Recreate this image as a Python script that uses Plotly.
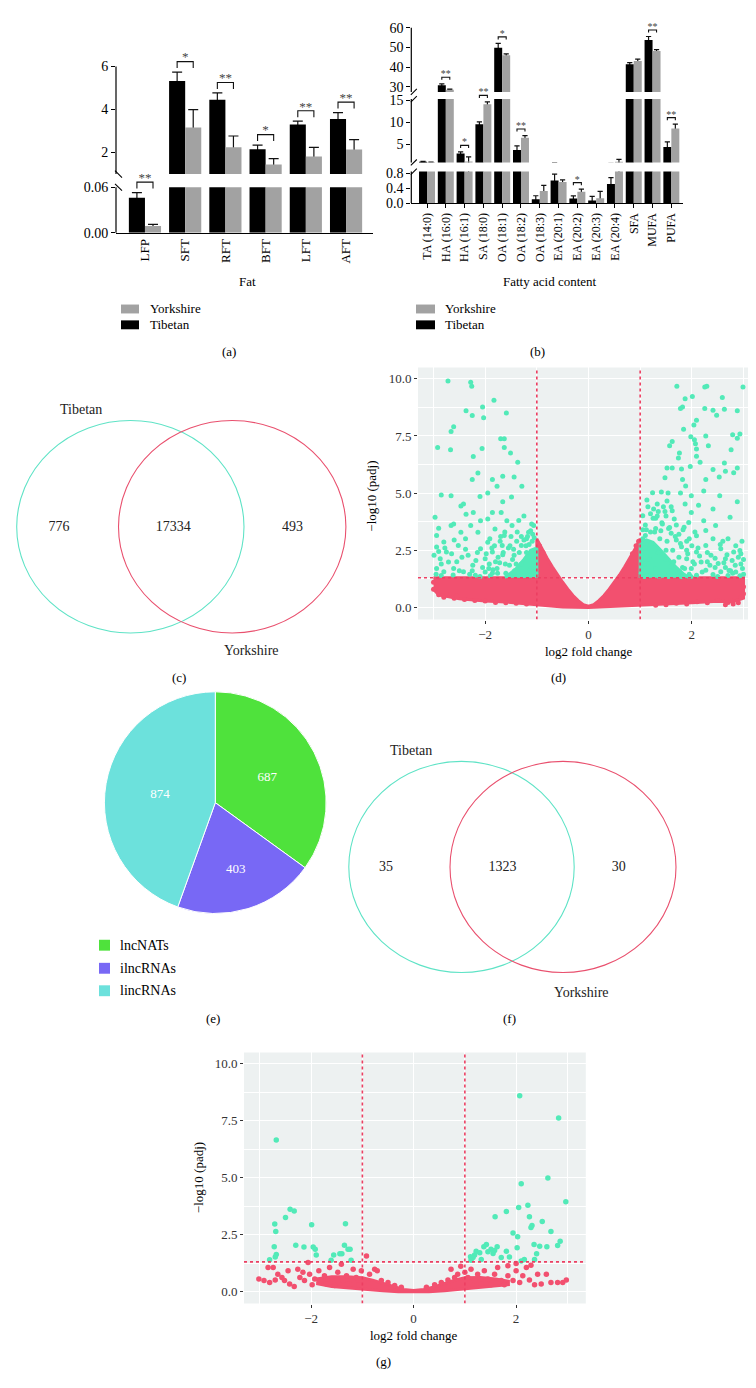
import numpy as np
import plotly.graph_objects as go

W, H = 756, 1388
FONT = "Liberation Serif"
TIB_COL = "#000000"
YOR_COL = "#a2a2a2"
RED = "#f2506f"
GREEN = "#52eab8"
CUT = "#ec3f62"
PANEL_BG = "#edf1f1"
PIE_COLS = ["#4fe23c", "#7868f5", "#6ce1dc"]

# ---------------- data ----------------
# (a) fat depots, mean and sd
fat_labels = ["LFP", "SFT", "RFT", "BFT", "LFT", "AFT"]
fat_tibetan = [0.046, 5.32, 4.45, 2.15, 3.30, 3.56]
fat_tibetan_sd = [0.007, 0.42, 0.32, 0.20, 0.16, 0.30]
fat_yorkshire = [0.009, 3.17, 2.25, 1.45, 1.82, 2.14]
fat_yorkshire_sd = [0.002, 0.83, 0.52, 0.27, 0.42, 0.46]
fat_sig = ["**", "*", "**", "*", "**", "**"]

# (b) fatty acid content
fa_labels = ["TA (14:0)", "HA (16:0)", "HA (16:1)", "SA (18:0)", "OA (18:1)", "OA (18:2)",
             "OA (18:3)", "EA (20:1)", "EA (20:2)", "EA (20:3)", "EA (20:4)", "SFA", "MUFA", "PUFA"]
fa_tibetan = [1.05, 30.9, 2.90, 9.60, 49.9, 3.70, 0.105, 0.60, 0.12, 0.07, 0.51, 41.5, 53.8, 4.40]
fa_tibetan_sd = [0.06, 0.70, 0.38, 0.50, 2.20, 0.95, 0.09, 0.17, 0.07, 0.11, 0.17, 0.90, 1.80, 1.15]
fa_yorkshire = [0.92, 28.6, 1.10, 14.1, 46.1, 6.50, 0.32, 0.56, 0.30, 0.13, 1.05, 43.2, 48.2, 8.60]
fa_yorkshire_sd = [0.04, 0.30, 1.05, 0.55, 0.70, 0.50, 0.15, 0.06, 0.07, 0.18, 0.55, 0.90, 0.70, 1.00]
fa_sig = ["", "**", "*", "**", "*", "**", "", "", "*", "", "", "", "**", "**"]

breeds = ["Tibetan", "Yorkshire"]

# (c) / (f) overlaps: Tibetan only, shared, Yorkshire only
gene_overlap = [776, 17334, 493]
lnc_overlap = [35, 1323, 30]

# (e) lncRNA classes
lnc_types = ["lncNATs", "ilncRNAs", "lincRNAs"]
lnc_counts = [687, 403, 874]

# thresholds used in the volcano plots
fc_cut = 1.0
padj_cut = 0.05

# (d) volcano, genes: outlines of the densest clouds plus scattered points
d_body_x = [-3.0, -1.0, -1.0, -0.9, -0.8, -0.7, -0.6, -0.5, -0.4, -0.3, -0.2, -0.1, 0.0,
            0.1, 0.2, 0.3, 0.4, 0.5, 0.6, 0.7, 0.8, 0.9, 1.0, 1.0, 3.0,
            3.0, 2.8, 2.5, 2.0, 1.5, 1.0, 0.5, 0.0, -0.5, -1.0, -1.5, -2.0, -2.5, -2.9, -3.0]
d_body_y = [1.3, 1.3, 3.0, 2.55, 2.15, 1.78, 1.42, 1.1, 0.8, 0.52, 0.3, 0.12, 0.05,
            0.12, 0.3, 0.52, 0.8, 1.1, 1.42, 1.78, 2.15, 2.55, 3.0, 1.3, 1.3,
            0.4, 0.25, 0.27, 0.2, 0.15, 0.08, 0.02, 0.0, 0.02, 0.12, 0.22, 0.28, 0.38, 0.55, 0.8]
d_ns_x = [-2.9, -2.8, -2.6, -2.4, -2.2, -2.0, -1.8, -1.6, -1.4, -1.2, 2.9, 2.8, 2.7, 2.5, 2.3,
          2.1, 1.9, 1.7, 1.5, 1.3, 3.0, 3.0, -3.0, -3.0, -0.95, -0.88, 0.92, 0.97, 0.85,
          2.65, 2.75, 2.95, -2.75, -2.55]
d_ns_y = [0.55, 0.45, 0.4, 0.35, 0.3, 0.28, 0.22, 0.2, 0.18, 0.15, 0.2, 0.15, 0.22, 0.3, 0.2,
          0.25, 0.15, 0.18, 0.12, 0.1, 0.6, 0.9, 0.8, 1.1, 2.7, 2.4, 2.7, 2.9, 2.35,
          0.12, 0.3, 0.45, 0.6, 0.5]
d_up_core_x = [1.0, 1.0, 1.12, 1.25, 1.4, 1.55, 1.7, 1.85, 1.95]
d_up_core_y = [1.3, 2.8, 2.95, 2.85, 2.5, 2.1, 1.75, 1.45, 1.3]
d_down_core_x = [-1.0, -1.0, -1.12, -1.25, -1.4, -1.55, -1.62]
d_down_core_y = [1.3, 2.6, 2.5, 2.1, 1.7, 1.4, 1.3]
d_sig_x = [-2.72, -2.28, -2.26, -1.83, -2.05, -2.37, -2.25, -2.03, -1.59, -2.61, -2.66, -2.92, -2.67,
           -1.7, -1.63, -1.63, -2.06, -2.23, -1.51, -1.37, -2.14, -2.25, -1.66, -1.44, -1.86, -1.77,
           -1.29, -1.95, -2.85, -2.66, -2.10, -1.49, -1.66, -2.42, -2.23, -2.37, -2.97, -1.95, -1.86,
           -1.25, -1.35, -2.28, -2.66, -2.9, -1.1, -2.94, -2.80, -2.94, -2.75, -2.99, -2.87, -2.71,
           -2.94, -2.80, -2.61, -2.47, -2.38, -2.52, -2.33, -2.24, -2.42, -2.09, -2.0, -1.91, -1.86,
           -1.77, -1.67, -2.14, -1.81, -1.63, -1.58, -1.48, -2.19, -1.86, -1.44, -1.30, -1.16, -1.06,
           -1.20, -1.53, -1.37, -1.11, -2.09, -2.61, -1.69, -2.47, -2.55, -2.3, -2.05, -1.95, -1.75,
           -1.6, -2.65, -2.85, -2.15, -1.7, -1.55, -1.4, -1.2, -1.1,
           -2.95, -2.85, -2.78, -2.62, -2.5, -2.45, -2.38, -2.25, -2.18, -2.1, -2.0, -1.98, -1.92,
           -1.85, -1.82, -1.72, -1.65, -1.62, -1.5, -1.45, -1.38, -1.3, -1.25, -1.15, -1.08, -1.05,
           -1.52, -1.9, -2.6, -2.9,
           -1.02, -1.06, -1.03, -1.09, -1.14, -1.17, -1.21, -1.26, -1.3, -1.34, -1.39, -1.43,
           -1.47, -1.52, -1.57, -1.61, -1.66, -1.71, -1.76, -1.8, -1.87, -1.93, -1.12, -1.18,
           1.71, 2.01, 1.87, 2.25, 2.29, 2.59, 2.99, 1.82, 1.78, 2.25, 2.41, 2.63, 2.88, 2.48, 2.09,
           2.04, 1.84, 1.98, 2.05, 2.27, 2.79, 2.88, 2.93, 1.57, 1.62, 2.07, 2.32, 2.09, 2.76, 1.76,
           2.09, 1.74, 2.16, 2.63, 1.52, 1.62, 1.80, 2.88, 1.97, 2.41, 2.65, 2.81, 1.82, 1.48, 2.27,
           2.53, 1.88, 2.23, 1.24, 1.41, 1.54, 1.78, 1.99, 2.54, 2.88, 1.13, 1.33, 1.52, 1.87, 2.13,
           2.41, 1.26, 1.62, 1.99, 1.05, 2.74, 1.66, 2.23, 1.94, 2.46, 1.43, 1.85, 2.27, 2.70, 2.09,
           2.41, 2.93, 2.27, 2.56, 2.81, 2.95, 2.09, 2.37, 2.65, 1.90, 2.18, 2.51, 2.84, 2.98, 1.99,
           2.27, 2.56, 2.79, 2.09, 2.41, 1.76, 2.93, 1.1, 1.2, 1.35, 1.5, 1.7, 1.75, 1.9, 2.0, 2.15,
           2.3, 2.45, 2.65, 2.7, 1.6, 1.45, 1.15, 2.6, 2.85, 3.0, 2.75, 1.3, 1.05,
           1.95, 2.05, 2.12, 2.2, 2.3, 2.35, 2.45, 2.5, 2.55, 2.62, 2.68, 2.72, 2.78, 2.85, 2.9,
           2.95, 3.0, 2.97, 1.8, 1.7, 1.6, 1.55, 1.4, 1.3, 1.2, 1.1, 1.65, 1.82, 1.92, 1.5,
           1.02, 1.08, 1.03, 1.1, 1.05, 1.15, 1.18, 1.22, 1.28, 1.3, 1.35, 1.38, 1.42, 1.46,
           1.5, 1.52, 1.57, 1.6, 1.63, 1.68, 1.72, 1.75, 1.78, 1.83, 1.86, 1.9, 1.95, 1.98,
           2.02, 2.06, 1.12, 1.25, 1.33, 1.48, 1.37, 1.55, 1.8, 1.08]
d_sig_y = [9.9, 9.85, 9.67, 9.06, 8.77, 8.6, 8.4, 8.3, 8.5, 7.9, 7.7, 7.0, 6.9,
           7.38, 7.38, 7.0, 6.95, 6.6, 6.75, 6.35, 5.88, 5.6, 5.74, 5.71, 5.6, 5.3,
           5.3, 5.0, 4.92, 4.88, 4.85, 4.83, 4.62, 4.52, 4.15, 4.08, 3.94, 3.87, 4.15,
           4.0, 3.8, 3.58, 3.58, 3.46, 3.65, 3.15, 2.86, 2.64, 2.42, 2.28, 2.13, 1.99,
           1.70, 1.56, 1.70, 3.29, 3.0, 2.71, 2.28, 1.85, 1.56, 2.57, 2.13, 3.0, 2.42,
           1.70, 2.71, 3.29, 3.43, 3.15, 3.79, 3.58, 1.41, 1.49, 2.28, 2.71, 3.29, 3.58,
           3.0, 1.85, 1.56, 1.70, 3.79, 3.65, 4.15, 4.44, 2.0, 1.45, 1.75, 2.85, 2.2,
           1.5, 2.35, 1.4, 2.4, 3.1, 2.6, 1.9, 2.4, 1.45,
           1.45, 1.9, 2.6, 1.42, 1.6, 2.2, 2.55, 1.6, 2.05, 1.35, 1.55, 2.35, 1.9,
           1.65, 2.7, 1.95, 2.4, 3.3, 3.1, 2.55, 3.3, 3.1, 2.95, 2.75, 3.2, 3.05,
           1.4, 1.38, 2.95, 2.45,
           1.5, 2.0, 2.4, 2.9, 1.6, 2.2, 2.7, 1.4, 1.9, 2.4, 2.9, 1.6,
           2.1, 2.7, 1.4, 1.9, 2.3, 2.9, 1.5, 2.0, 2.6, 1.7, 3.35, 3.1,
           9.68, 9.23, 9.13, 9.64, 9.68, 9.18, 9.64, 8.77, 8.70, 8.70, 8.63, 8.67, 8.60, 8.41, 8.19,
           7.98, 7.79, 7.47, 7.33, 7.50, 7.55, 7.40, 7.59, 7.07, 7.26, 7.16, 7.07, 6.93, 6.90, 6.75,
           6.61, 6.54, 6.35, 6.32, 6.10, 6.10, 6.06, 6.10, 6.17, 6.03, 5.96, 5.89, 5.60, 5.67, 5.60,
           5.71, 5.31, 5.09, 5.02, 5.05, 5.0, 5.0, 4.88, 4.88, 4.62, 4.70, 4.52, 4.66, 4.52, 4.47,
           4.30, 4.30, 4.23, 4.15, 4.01, 3.94, 3.87, 3.79, 3.72, 3.58, 3.65, 3.51, 3.36, 3.0, 3.14,
           3.0, 2.49, 2.71, 2.57, 2.42, 2.35, 2.42, 2.28, 2.13, 2.13, 1.99, 1.92, 1.85, 1.70, 1.70,
           1.63, 1.56, 1.49, 1.41, 1.44, 1.56, 1.38, 3.6, 4.1, 4.2, 4.0, 3.6, 3.2, 2.9, 2.7, 2.25,
           2.0, 1.75, 1.75, 1.4, 4.4, 4.4, 4.4, 2.9, 2.7, 2.1, 1.6, 3.9, 3.4,
           1.45, 1.9, 2.6, 1.55, 2.4, 1.85, 2.15, 1.35, 2.75, 1.95, 2.3, 1.62, 2.05, 1.55, 2.2,
           1.9, 1.45, 2.9, 2.65, 2.95, 3.25, 3.45, 3.35, 3.45, 3.3, 3.15, 2.0, 1.75, 2.35, 2.5,
           1.5, 1.9, 2.3, 2.6, 3.0, 1.4, 2.1, 2.8, 3.3, 1.7, 2.4, 3.0, 3.7, 1.5,
           2.1, 2.9, 3.5, 1.8, 2.5, 3.1, 1.45, 2.2, 2.8, 3.4, 1.7, 2.5, 3.0, 1.35,
           2.0, 3.3, 3.4, 3.9, 4.0, 4.2, 1.35, 1.35, 1.35, 1.35]

# (g) volcano, lncRNAs
g_body_x = [-1.9, -1.6, -1.3, -1.0, -0.8, -0.6, -0.4, -0.2, 0.0, 0.2, 0.4, 0.6, 0.8, 1.0, 1.3,
            1.6, 1.85, 1.85, 1.5, 1.2, 1.0, 0.6, 0.3, 0.0, -0.3, -0.6, -1.0, -1.3, -1.6, -1.9]
g_body_y = [0.55, 0.65, 0.65, 0.6, 0.5, 0.36, 0.2, 0.09, 0.04, 0.09, 0.2, 0.36, 0.5, 0.6, 0.62,
            0.55, 0.45, 0.3, 0.22, 0.15, 0.1, 0.03, -0.01, -0.02, -0.01, 0.03, 0.1, 0.17, 0.22, 0.35]
g_ns_x = [-3.02, -2.92, -2.81, -2.84, -2.74, -2.65, -2.70, -2.57, -2.52, -2.45, -2.42, -2.33,
          -2.26, -2.22, -2.16, -2.13, -2.06, -2.03, -1.98, -1.93, -1.85, -1.80, -1.74, -1.70,
          -1.64, -1.59, -1.54, -1.48, -1.41, -1.38, -1.31, -1.25, -1.18, -1.12, -1.07, -1.02,
          -0.92, -0.86, -0.76, -0.71, -0.63, -0.50, -0.37, -0.24, 0.25, 0.41, 0.54, 0.67, 0.73,
          0.80, 0.86, 0.92, 1.00, 1.06, 1.12, 1.19, 1.25, 1.32, 1.38, 1.45, 1.51, 1.58, 1.64,
          1.71, 1.77, 1.84, 1.94, 2.00, 2.07, 2.13, 2.20, 2.26, 2.36, 2.42, 2.49, 2.59, 2.68,
          2.81, 2.91, 2.98, 2.00, 2.29, 1.84]
g_ns_y = [0.55, 0.48, 0.40, 1.05, 1.05, 0.76, 0.50, 0.62, 0.48, 0.91, 0.33, 0.22,
          0.98, 0.62, 0.84, 0.48, 1.27, 0.76, 0.30, 0.55, 0.91, 0.48, 0.69, 0.33,
          1.05, 0.55, 0.26, 0.84, 1.20, 0.48, 0.69, 0.33, 0.98, 0.62, 0.30, 0.91,
          1.56, 0.76, 0.98, 0.91, 0.48, 0.40, 0.26, 0.19, 0.19, 0.30, 0.40, 0.50, 0.98,
          0.62, 0.76, 1.11, 0.84, 0.62, 0.98, 0.48, 0.76, 0.33, 0.91, 0.55, 0.30, 0.76, 1.05,
          0.48, 0.30, 0.69, 0.48, 0.91, 0.40, 0.69, 1.05, 0.50, 0.30, 0.76, 0.33, 0.76, 0.40,
          0.40, 0.40, 0.50, 1.23, 1.15, 1.13]
g_sig_x = [-2.68, 2.07, 2.83, 2.62, 2.10, 2.97, 2.23, 2.05, 1.81, 1.59, 2.26, 2.51, 2.31, 2.29,
           2.68, 1.94, 2.03, 2.35, 2.46, 2.60, 2.81, 2.86, 2.02, 2.40, 1.42, 1.37, 1.51, 1.58,
           1.63, 1.45, 1.55, 1.81, 1.71, 1.87, 1.22, 1.29, 1.19, 1.11, 1.16, 1.12, 1.32, 2.16,
           2.36, 2.10, -2.71, -2.69, -2.72, -2.68, -2.70, -2.81, -2.50, -2.41, -2.33, -2.30,
           -2.14, -1.99, -1.96, -1.92, -1.90, -1.56, -1.61, -1.44, -1.40, -1.33, -1.35, -1.28,
           -1.24, -1.22]
g_sig_y = [6.65, 8.60, 7.62, 4.99, 4.73, 3.94, 3.79, 3.69, 3.51, 3.28, 3.28, 3.07, 2.90, 2.81,
           2.64, 2.57, 2.40, 2.06, 1.99, 1.96, 2.02, 2.21, 1.92, 1.66, 2.06, 1.96, 1.85, 1.80,
           1.96, 1.75, 1.67, 1.77, 1.49, 1.52, 1.77, 1.70, 1.60, 1.53, 1.49, 1.37, 1.41, 1.41,
           1.40, 1.34, 2.96, 2.64, 1.96, 1.63, 1.52, 1.39, 3.25, 3.61, 3.54, 2.03,
           1.95, 2.93, 1.95, 1.85, 1.60, 1.60, 1.37, 1.66, 1.66, 2.97, 2.03, 1.85,
           1.85, 1.37]


# ---------------- helpers ----------------
def fx(p):
    return p / W


def fy(p):
    return 1 - p / H


def segment(v1, p1, v2, p2, lo, hi, top, tickvals, ticktext=None, cap=None):
    # one piece of a broken value axis, calibrated from two ticks (value, pixel row)
    ppu = (p1 - p2) / (v2 - v1)

    def at(v):
        return p1 - (v - v1) * ppu

    return dict(lo=lo, hi=hi, top=top, cap=cap, ppu=ppu, p_lo=at(lo), p_top=at(top),
                domain=[fy(at(lo)), fy(at(hi))], tickvals=tickvals,
                ticktext=ticktext if ticktext else [str(t) for t in tickvals])


def axkey(name):
    return ("xaxis" if name[0] == "x" else "yaxis") + name[1:]


fig = go.Figure()
layout = {}
shapes = []
annotations = []


def note(text, px, py, size=13, angle=0, color="black", anchor="center"):
    annotations.append(dict(text=text, x=fx(px), y=fy(py), xref="paper", yref="paper",
                            showarrow=False, textangle=angle, xanchor=anchor, yanchor="middle",
                            font=dict(family=FONT, size=size, color=color)))


def key(names, colors, x0, x1, text_x, rows, half_h, size):
    # hand-placed legend: colour swatch plus label
    for name, col, y in zip(names, colors, rows):
        shapes.append(dict(type="rect", xref="paper", yref="paper", x0=fx(x0), x1=fx(x1),
                           y0=fy(y + half_h), y1=fy(y - half_h), fillcolor=col,
                           line=dict(width=0)))
        note(name, text_x, y, size=size, anchor="left")


def bar_panel(xa, yas, segs, axis_px, xdom, xrange, labels, tib, tib_sd, yor, yor_sd, sig,
              bar_w, cap_w, xticks, xfont, style, slash):
    idx = np.arange(len(labels))
    tib, tib_sd, yor, yor_sd = map(np.asarray, (tib, tib_sd, yor, yor_sd))
    for ya, s in zip(yas, segs):
        for vals, sd, off, col in ((tib, tib_sd, -bar_w, TIB_COL), (yor, yor_sd, 0.0, YOR_COL)):
            keep = idx if s["cap"] is None else idx[vals < s["cap"]]
            shown = vals if s["cap"] is None else np.minimum(vals, s["cap"])
            # error bars sit on a transparent copy; the real bar drawn after hides the lower half
            fig.add_trace(go.Bar(x=keep, y=vals[keep], width=bar_w, offset=off,
                                 marker=dict(color="rgba(0,0,0,0)", line_width=0),
                                 error_y=dict(type="data", array=sd[keep], color="#111111",
                                              thickness=1.2, width=cap_w),
                                 xaxis=xa, yaxis=ya, hoverinfo="skip"))
            fig.add_trace(go.Bar(x=idx, y=shown, width=bar_w, offset=off,
                                 marker=dict(color=col, line_width=0),
                                 xaxis=xa, yaxis=ya, hoverinfo="skip"))
        layout[axkey(ya)] = dict(domain=s["domain"], range=[s["lo"], s["hi"]], anchor=xa,
                                 tickvals=s["tickvals"], ticktext=s["ticktext"],
                                 ticks="outside", ticklen=4, tickwidth=1.2, tickcolor="black",
                                 showline=False, showgrid=False, zeroline=False,
                                 tickfont=dict(family=FONT, size=14, color="black"))
        shapes.append(dict(type="line", xref=xa + " domain", yref=ya + " domain",
                           x0=0, x1=0, y0=0, y1=(s["top"] - s["lo"]) / (s["hi"] - s["lo"]),
                           line=dict(color="black", width=1.2)))

    layout[axkey(xa)] = dict(domain=xdom, range=xrange, anchor=yas[0], tickvals=idx,
                             ticktext=labels, tickangle=-90, showline=True, linecolor="black",
                             linewidth=1.2, showgrid=False, zeroline=False,
                             ticks="outside" if xticks else "", ticklen=4, tickwidth=1.2,
                             tickcolor="black",
                             tickfont=dict(family=FONT, size=xfont, color="black"))

    # significance brackets
    gap, tall, lift, star_size = style
    lines = {ya: ([], []) for ya in yas}
    stars = {ya: ([], [], []) for ya in yas}
    for i, mark in enumerate(sig):
        if not mark:
            continue
        peak = max(tib[i] + tib_sd[i], yor[i] + yor_sd[i])
        k = max(j for j, s in enumerate(segs) if s["lo"] <= peak)
        s, ya = segs[k], yas[k]
        y0 = peak + gap / s["ppu"]
        y1 = y0 + tall / s["ppu"]
        lx, ly = lines[ya]
        lx += [i - bar_w / 2, i - bar_w / 2, i + bar_w / 2, i + bar_w / 2, None]
        ly += [y0, y1, y1, y0, None]
        sx, sy, st = stars[ya]
        sx.append(i)
        sy.append(y1 + lift / s["ppu"])
        st.append(mark)
    for ya in yas:
        if lines[ya][0]:
            fig.add_trace(go.Scatter(x=lines[ya][0], y=lines[ya][1], mode="lines",
                                     line=dict(color="#111111", width=1.1), xaxis=xa, yaxis=ya,
                                     hoverinfo="skip"))
            fig.add_trace(go.Scatter(x=stars[ya][0], y=stars[ya][1], text=stars[ya][2],
                                     mode="text", textposition="middle center",
                                     textfont=dict(family=FONT, size=star_size, color="#444444"),
                                     xaxis=xa, yaxis=ya, hoverinfo="skip", cliponaxis=False))

    # axis break marks
    for k in range(len(segs) - 1):
        for p in (segs[k]["p_top"], segs[k + 1]["p_lo"]):
            if slash == "\\":
                x0, y0, x1, y1 = axis_px - 1, p - 3.5, axis_px + 6, p + 3.5
            else:
                x0, y0, x1, y1 = axis_px - 0.5, p + 3, axis_px + 5.5, p - 3
            shapes.append(dict(type="line", xref="paper", yref="paper", x0=fx(x0), y0=fy(y0),
                               x1=fx(x1), y1=fy(y1), line=dict(color="black", width=1.1)))


def volcano(xa, ya, xdom, ydom, xrange, bodies, ns_x, ns_y, sig_x, sig_y, size):
    for bx, by, col in bodies:
        fig.add_trace(go.Scatter(x=bx, y=by, fill="toself", fillcolor=col, mode="lines",
                                 line=dict(color=col, width=3), xaxis=xa, yaxis=ya,
                                 hoverinfo="skip"))
    fig.add_trace(go.Scatter(x=ns_x, y=ns_y, mode="markers", marker=dict(color=RED, size=size),
                             xaxis=xa, yaxis=ya, hoverinfo="skip"))
    fig.add_trace(go.Scatter(x=sig_x, y=sig_y, mode="markers",
                             marker=dict(color=GREEN, size=size),
                             xaxis=xa, yaxis=ya, hoverinfo="skip"))
    yr = [-0.53, 10.5]
    hline = -np.log10(padj_cut)
    fig.add_trace(go.Scatter(x=[-fc_cut, -fc_cut, None, fc_cut, fc_cut, None, xrange[0], xrange[1]],
                             y=[yr[0], yr[1], None, yr[0], yr[1], None, hline, hline],
                             mode="lines", line=dict(color=CUT, width=1.6, dash="dot"),
                             xaxis=xa, yaxis=ya, hoverinfo="skip"))
    common = dict(showgrid=True, gridcolor="white", gridwidth=1.1, zeroline=False,
                  showline=False, ticks="outside", ticklen=3, tickwidth=1, tickcolor="#333333",
                  tickfont=dict(family=FONT, size=13, color="#333333"), tickmode="linear")
    layout[axkey(xa)] = dict(domain=xdom, range=xrange, anchor=ya, tick0=0, dtick=2,
                             minor=dict(tick0=1, dtick=2, showgrid=True, gridcolor="white",
                                        gridwidth=0.5),
                             **common)
    layout[axkey(ya)] = dict(domain=ydom, range=yr, anchor=xa, tick0=0, dtick=2.5,
                             tickformat=".1f",
                             minor=dict(tick0=1.25, dtick=2.5, showgrid=True, gridcolor="white",
                                        gridwidth=0.5),
                             **common)
    shapes.append(dict(type="rect", xref=xa + " domain", yref=ya + " domain", x0=0, x1=1,
                       y0=0, y1=1, fillcolor=PANEL_BG, line=dict(width=0), layer="below"))


def venn(xa, ya, px_box, circles, counts, count_pos, names):
    l, t, r, b = px_box
    layout[axkey(xa)] = dict(domain=[fx(l), fx(r)], range=[l, r], visible=False, anchor=ya)
    layout[axkey(ya)] = dict(domain=[fy(b), fy(t)], range=[b, t], visible=False, anchor=xa)
    for (x0, x1, y0, y1), col in circles:
        shapes.append(dict(type="circle", xref=xa, yref=ya, x0=x0, x1=x1, y0=y0, y1=y1,
                           line=dict(color=col, width=1.1)))
    fig.add_trace(go.Scatter(x=[p[0] for p in count_pos], y=[p[1] for p in count_pos],
                             text=[str(c) for c in counts], mode="text",
                             textfont=dict(family=FONT, size=14, color="#222222"),
                             xaxis=xa, yaxis=ya, hoverinfo="skip"))
    for text, (px, py) in zip(breeds, names):
        note(text, px, py, size=14, color="#222222")


# ---------------- (a) ----------------
seg_a = [segment(0, 221, 0.06, 175, lo=0, hi=0.085, top=0.06, tickvals=[0, 0.06],
                 ticktext=["0.00", "0.06"], cap=0.06),
         segment(2, 140, 6, 53, lo=1, hi=6.6, top=6, tickvals=[2, 4, 6])]
bar_panel("x", ["y", "y2"], seg_a, 108, [fx(108), fx(365)], [-0.72, 5.67], fat_labels,
          fat_tibetan, fat_tibetan_sd, fat_yorkshire, fat_yorkshire_sd, fat_sig,
          0.4, 5, False, 13, (4, 6.5, 3.5, 13), "\\")
key(breeds[::-1], [YOR_COL, TIB_COL], 113, 131, 140, [298, 314], 4.5, 13)

# ---------------- (b) ----------------
seg_b = [segment(0, 191, 0.8, 160.7, lo=0, hi=0.84, top=0.84, tickvals=[0, 0.4, 0.8],
                 ticktext=["0.0", "0.4", "0.8"]),
         segment(5, 131.7, 15, 87.3, lo=0.88, hi=18.2, top=15.3, tickvals=[5, 10, 15], cap=15.3),
         segment(30, 73.7, 60, 14, lo=27.5, hi=63.5, top=60, tickvals=[30, 40, 50, 60])]
bar_panel("x2", ["y3", "y4", "y5"], seg_b, 403.3, [fx(403.3), fx(675)], [-0.836, 13.62],
          fa_labels, fa_tibetan, fa_tibetan_sd, fa_yorkshire, fa_yorkshire_sd, fa_sig,
          0.425, 2.6, True, 12, (4, 2.6, 2.5, 10), "/")
key(breeds[::-1], [YOR_COL, TIB_COL], 408, 427, 435, [298, 314], 4.5, 13)

# ---------------- (c) ----------------
venn("x3", "y6", (0, 380, 378, 670),
     [((8.7, 236, 410.7, 625.3), "#5fe3c6"), ((110.5, 337.9, 410.7, 625.3), "#e9506e")],
     gene_overlap, [(51, 519), (165.3, 519), (284.5, 519)],
     [(72.7, 399.3), (243.8, 643.3)])

# ---------------- (d) ----------------
volcano("x4", "y7", [fx(410), fx(751)], [fy(611.7), fy(357)], [-3.3, 3.3],
        [(d_body_x, d_body_y, RED), (d_up_core_x, d_up_core_y, GREEN),
         (d_down_core_x, d_down_core_y, GREEN)],
        d_ns_x, d_ns_y, d_sig_x, d_sig_y, 5)

# ---------------- (e) ----------------
fig.add_trace(go.Pie(labels=lnc_types, values=lnc_counts, sort=False, direction="clockwise",
                     rotation=0, textinfo="value", textposition="inside",
                     insidetextorientation="horizontal",
                     textfont=dict(family=FONT, size=13, color="white"),
                     marker=dict(colors=PIE_COLS, line=dict(color="white", width=1)),
                     domain=dict(x=[fx(207.3 - 112), fx(207.3 + 112)],
                                 y=[fy(796.7 + 112), fy(796.7 - 112)]),
                     hoverinfo="skip"))
key(lnc_types, PIE_COLS, 91, 102, 110, [940.7, 964, 986.7], 5.5, 14)

# ---------------- (f) ----------------
venn("x5", "y8", (330, 730, 700, 1010),
     [((340.8, 566.2, 755, 968.3), "#5fe3c6"), ((442, 668, 755, 968.3), "#e9506e")],
     lnc_overlap, [(378, 862.3), (494.4, 862.3), (610.8, 862.3)],
     [(403.3, 744), (573.4, 988.3)])

# ---------------- (g) ----------------
volcano("x6", "y9", [fx(236), fx(577.8)], [fy(1302.7), fy(1049)], [-3.31, 3.36],
        [(g_body_x, g_body_y, RED)], g_ns_x, g_ns_y, g_sig_x, g_sig_y, 5.5)

# titles and panel labels
note("Fat", 239, 270)
note("Fatty acid content", 541.7, 270)
note("log2 fold change", 580.7, 644)
note("\u2212log10 (padj)", 362.6, 487, angle=-90)
note("log2 fold change", 405.7, 1335)
note("\u2212log10 (padj)", 190, 1176, angle=-90)
for lab, (px, py) in {"(a)": (221.5, 341), "(b)": (529, 341), "(c)": (170.6, 670),
                      "(d)": (550, 670), "(e)": (204.5, 1014.3), "(f)": (501.7, 1014.3),
                      "(g)": (375, 1361)}.items():
    note(lab, px, py)

fig.update_layout(
    width=W, height=H, margin=dict(l=0, r=0, t=0, b=0),
    paper_bgcolor="white", plot_bgcolor="rgba(0,0,0,0)",
    barmode="overlay", showlegend=False,
    font=dict(family=FONT, size=13, color="black"),
    shapes=shapes, annotations=annotations,
    **layout,
)

fig.write_html("out.html")
